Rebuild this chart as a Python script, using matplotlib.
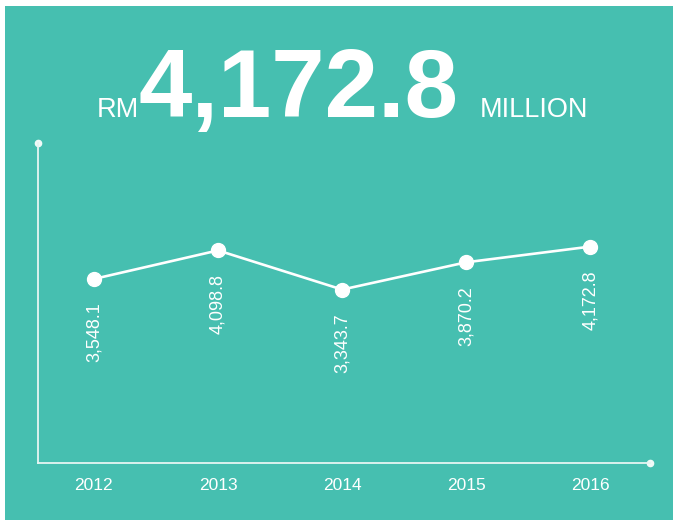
import matplotlib
matplotlib.use("Agg")
import matplotlib.pyplot as plt
from matplotlib.patches import Rectangle

years = [2012, 2013, 2014, 2015, 2016]
values = [3548.1, 4098.8, 3343.7, 3870.2, 4172.8]
value_labels = ["3,548.1", "4,098.8", "3,343.7", "3,870.2", "4,172.8"]
headline = "4,172.8"

W, H = 673, 520
DPI = 100
TEAL = "#46BFB0"
plt.rcParams['font.family'] = ['Liberation Sans', 'DejaVu Sans']

fig = plt.figure(figsize=(W / DPI, H / DPI), dpi=DPI, facecolor=TEAL)
# white margins on top and left
fig.patches.append(Rectangle((0, 0), 5 / W, 1, transform=fig.transFigure,
                             facecolor="white", edgecolor="none", zorder=-10))
fig.patches.append(Rectangle((0, 1 - 6 / H), 1, 6 / H, transform=fig.transFigure,
                             facecolor="white", edgecolor="none", zorder=-10))

ax_l, ax_r, ax_t, ax_b = 38, 650, 143, 463
ax = fig.add_axes([ax_l / W, (H - ax_b) / H, (ax_r - ax_l) / W, (ax_b - ax_t) / H])
ax.set_facecolor("none")
ax.set_xlim(2011.55, 2016.48)
ax.set_ylim(0, 6170)

for s in ["top", "right"]:
    ax.spines[s].set_visible(False)
for s in ["left", "bottom"]:
    ax.spines[s].set_color("#E6F6F3")
    ax.spines[s].set_linewidth(1.3)
ax.plot([0], [1], "o", color="#F0FAF8", ms=4.5, transform=ax.transAxes, clip_on=False)
ax.plot([1], [0], "o", color="#F0FAF8", ms=4.5, transform=ax.transAxes, clip_on=False)

ax.set_yticks([])
ax.set_xticks(years)
ax.set_xticklabels([str(y) for y in years], color="white", fontsize=12.5)
ax.tick_params(axis="x", length=0, pad=11)

ax.plot(years, values, color="white", lw=1.9, marker="o", ms=10, clip_on=False)
for x, v, lab in zip(years, values, value_labels):
    ax.annotate(lab, (x, v), xytext=(0, -17), textcoords="offset points",
                rotation=90, ha="center", va="top", color="white", fontsize=13)

base_y = 1 - 117 / H
fig.text(97 / W, base_y, "RM", color="white", fontsize=19.5, ha="left", va="baseline")
fig.text(298.5 / W, base_y, headline, color="white", fontsize=69, fontweight="bold",
         ha="center", va="baseline")
fig.text(480 / W, base_y, "MILLION", color="white", fontsize=19.5, ha="left", va="baseline")

fig.savefig("out.png", dpi=DPI, facecolor=TEAL)
